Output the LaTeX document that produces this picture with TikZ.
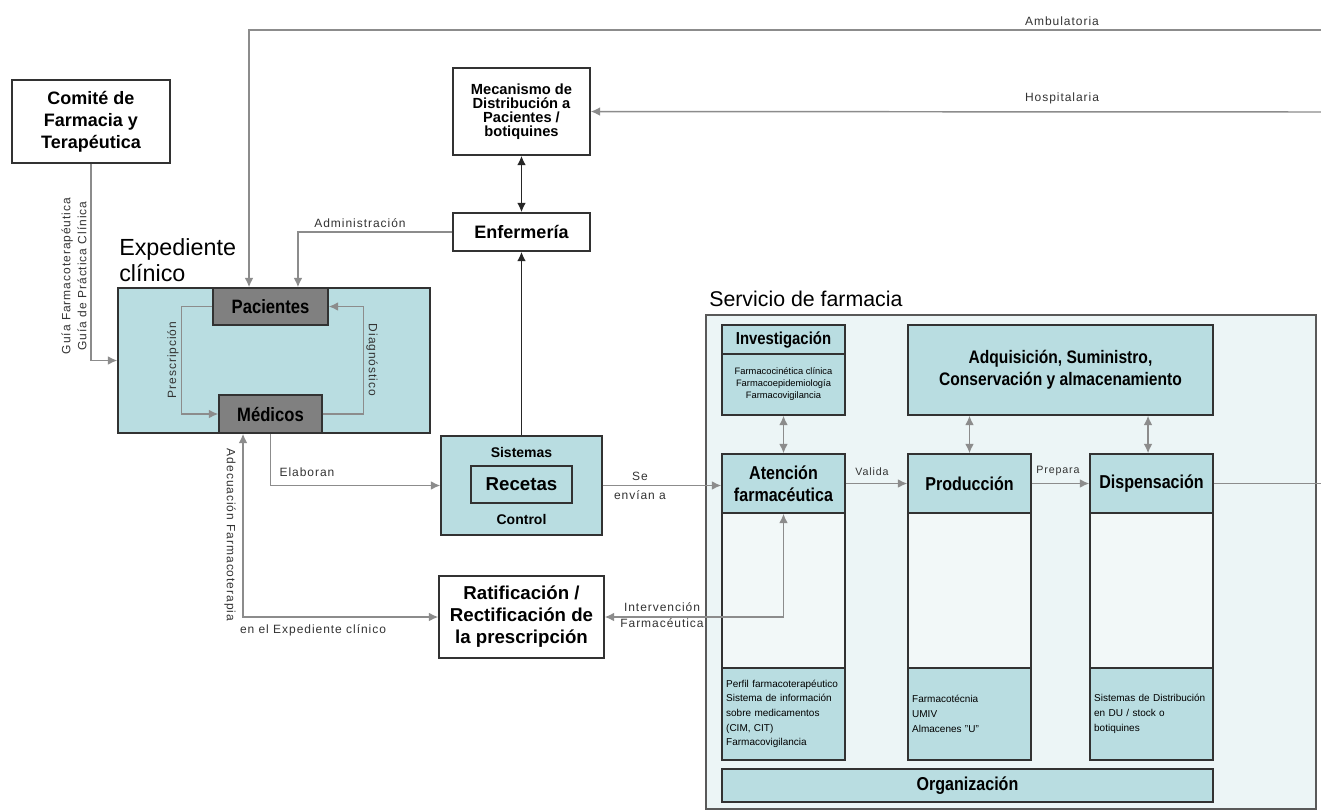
\documentclass[tikz,border=0pt]{standalone}
\usepackage{fontspec}
\setmainfont{Liberation Sans}
\newfontfamily\condfont[FakeStretch=0.86]{Liberation Sans}
\newfontfamily\lblfont[LetterSpace=8]{Liberation Sans}
\usetikzlibrary{arrows.meta,positioning}
\definecolor{edge}{RGB}{50,50,50}
\definecolor{cyanbox}{RGB}{185,221,225}
\definecolor{palebox}{RGB}{242,248,248}
\definecolor{bgfarm}{RGB}{236,245,246}
\definecolor{darkbox}{RGB}{128,128,128}
\definecolor{arrowc}{RGB}{140,140,140}

\begin{document}
\begin{tikzpicture}[
  x=0.75pt, y=-0.75pt,
  wbox/.style={draw=edge, line width=1.1pt, fill=white, align=center, inner sep=2pt},
  bbox/.style={wbox, fill=cyanbox},
  pbox/.style={wbox, fill=palebox},
  gbox/.style={wbox, fill=darkbox},
  head/.style={font=\condfont\bfseries\fontsize{14}{16.5}\selectfont},
  small/.style={font=\fontsize{7.5}{11}\selectfont, align=left, text width=86pt},
  lbl/.style={font=\lblfont\fontsize{9}{12}\selectfont, text=black!80, inner sep=1pt, align=center},
  garr/.style={draw=arrowc, line width=1.1pt, -{Latex[length=7pt,width=6.5pt]}},
  gdarr/.style={draw=arrowc, line width=1.1pt, {Latex[length=7pt,width=6.5pt]}-{Latex[length=7pt,width=6.5pt]}},
  gline/.style={draw=arrowc, line width=1.1pt},
  karr/.style={draw=black!85, line width=1.3pt, -{Latex[length=7pt,width=6.5pt]}},
  kdarr/.style={draw=black!85, line width=1.3pt, {Latex[length=7pt,width=6.5pt]}-{Latex[length=7pt,width=6.5pt]}}
]
\fill[white] (0,0) rectangle (1321,811);
\useasboundingbox (0,0) rectangle (1321,811);

% left part
\node[wbox, minimum width=118.5pt, minimum height=62.25pt, font=\bfseries\fontsize{13.5}{16.5}\selectfont] (comite) at (91,121.5) {Comité de\\Farmacia y\\Terapéutica};
\node[anchor=north west, align=left, inner sep=0pt, font=\fontsize{17.5}{20}\selectfont] (exptitle) at (119,238) {Expediente\\clínico};
\node[bbox, minimum width=234pt, minimum height=108.75pt] (expediente) at (274,360.5) {};
\node[gbox, minimum width=86.25pt, minimum height=27.75pt, font=\condfont\bfseries\fontsize{14.5}{16}\selectfont] (pacientes) at (270.5,306.5) {Pacientes};
\node[gbox, minimum width=77.25pt, minimum height=28.5pt, font=\condfont\bfseries\fontsize{14.5}{16}\selectfont] (medicos) at (270.5,414) {Médicos};

% middle column
\node[wbox, minimum width=102.75pt, minimum height=65.25pt, font=\bfseries\fontsize{11}{10.5}\selectfont] (mecanismo) at (521.5,111.5) {Mecanismo de\\Distribución a\\Pacientes /\\botiquines};
\node[wbox, minimum width=102.75pt, minimum height=28.5pt, font=\bfseries\fontsize{13.5}{16}\selectfont] (enfermeria) at (521.5,232) {Enfermería};
\node[bbox, minimum width=120.75pt, minimum height=74.25pt] (sistemas) at (521.5,485.5) {};
\node[font=\bfseries\fontsize{10.5}{12}\selectfont, inner sep=0pt] (sistlbl) at (521.5,452) {Sistemas};
\node[font=\bfseries\fontsize{10.5}{12}\selectfont, inner sep=0pt] (ctrllbl) at (521.5,519) {Control};
\node[bbox, minimum width=75.75pt, minimum height=27.75pt, font=\bfseries\fontsize{14}{16}\selectfont] (recetas) at (521.5,484.5) {Recetas};
\node[wbox, minimum width=123.75pt, minimum height=61.5pt, font=\bfseries\fontsize{14}{16.5}\selectfont] (ratif) at (521.5,617) {Ratificación /\\Rectificación de\\la prescripción};

% servicio de farmacia
\node[draw=black!65, line width=1.1pt, fill=bgfarm, minimum width=457.5pt, minimum height=370.5pt] (farmacia) at (1011,562) {};
\node[anchor=west, inner sep=0pt, font=\fontsize{16}{19}\selectfont] (farmtitle) at (709,299) {Servicio de farmacia};

\node[bbox, minimum width=92.25pt, minimum height=21.75pt, font=\condfont\bfseries\fontsize{13}{15}\selectfont] (invhead) at (783.5,339.5) {Investigación};
\node[bbox, minimum width=92.25pt, minimum height=45.75pt, font=\fontsize{7}{9}\selectfont] (invbody) at (783.5,384.5) {Farmacocinética clínica\\Farmacoepidemiología\\Farmacovigilancia};
\node[bbox, minimum width=228.75pt, minimum height=67.5pt, font=\condfont\bfseries\fontsize{13.6}{16.5}\selectfont] (adquis) at (1060.5,370) {Adquisición, Suministro,\\Conservación y almacenamiento};

\node[pbox, minimum width=92.25pt, minimum height=116.25pt] (atencmid) at (783.5,590.5) {};
\node[bbox, minimum width=92.25pt, minimum height=44.25pt, head] (atencion) at (783.5,483.5) {Atención\\farmacéutica};
\node[bbox, minimum width=92.25pt, minimum height=69pt, small] (atencinfo) at (783.5,714) {Perfil farmacoterapéutico\\Sistema de información\\sobre medicamentos\\(CIM, CIT)\\Farmacovigilancia};

\node[pbox, minimum width=92.25pt, minimum height=116.25pt] (prodmid) at (969.5,590.5) {};
\node[bbox, minimum width=92.25pt, minimum height=44.25pt, head] (produccion) at (969.5,483.5) {Producción};
\node[bbox, minimum width=92.25pt, minimum height=69pt, small] (prodinfo) at (969.5,714) {Farmacotécnia\\UMIV\\Almacenes "U"};

\node[pbox, minimum width=92.25pt, minimum height=116.25pt] (dispmid) at (1151.5,590.5) {};
\node[bbox, minimum width=92.25pt, minimum height=44.25pt, head] (dispensacion) at (1151.5,483.5) {Dispensación};
\node[bbox, minimum width=92.25pt, minimum height=69pt, small] (dispinfo) at (1151.5,714) {Sistemas de Distribución\\en DU / stock o\\botiquines};

\node[bbox, minimum width=368.25pt, minimum height=24.75pt, head] (organizacion) at (967.5,785.5) {Organización};

% outer connectors
\coordinate (ambR) at (1321,30);
\coordinate (hospR) at (1321,112);
\coordinate (dispR) at (1321,483.5);
\draw[garr] (ambR) -| ([xshift=-16.1pt]pacientes.north);
\node[lbl] (amblbl) at (1062,21) {Ambulatoria};
\draw[garr] (hospR) -- (mecanismo);
\node[lbl] (hosplbl) at (1062,98) {Hospitalaria};
\draw[kdarr] (mecanismo) -- (enfermeria);
\draw[garr] (enfermeria.west) -| ([xshift=20.6pt]pacientes.north);
\node[lbl] (admlbl) at (360,223) {Administración};

% guias
\draw[garr] (comite.south) |- (expediente.west);
\node[lbl, rotate=90] (guialbl) at (74,276) {Guía Farmacoterapéutica\\Guía de Práctica Clínica};

% loop pacientes / medicos
\draw[garr] (pacientes.west) -- ++(-31,0) |- (medicos.west);
\draw[garr] (medicos.east) -- ++(41,0) |- (pacientes.east);
\node[lbl, rotate=90] (presclbl) at (173,360) {Prescripción};
\node[lbl, rotate=-90] (diaglbl) at (372,360) {Diagnóstico};

% recetas
\draw[garr] (medicos.south) |- (sistemas.west);
\node[lbl] (elablbl) at (307,472) {Elaboran};
\draw[karr] (sistemas.north) -- (enfermeria.south);
\draw[garr] (sistemas.east) -- (sistemas.east -| atencion.west);
\node[lbl] (envlbl) at (640,486) {Se\\[2pt]envían a};

% adecuacion
\draw[gdarr] (ratif.west) -| ([xshift=-20.6pt]medicos.south);
\node[lbl, rotate=-90] (adeclbl) at (230,535) {Adecuación Farmacoterapia};
\node[lbl] (enellbl) at (313,630) {en el Expediente clínico};

% intervencion
\draw[gdarr] (ratif.east) -| (atencion.south);
\node[lbl] (intlbl) at (662,615) {Intervención\\Farmacéutica};

% inside farmacia
\draw[gdarr] (invbody.south) -- (atencion.north);
\draw[gdarr] (produccion.north |- adquis.south) -- (produccion.north);
\draw[gdarr] ([xshift=-2.6pt]dispensacion.north |- adquis.south) -- ([xshift=-2.6pt]dispensacion.north);
\draw[garr] (atencion.east) -- (produccion.west);
\node[lbl, font=\lblfont\fontsize{8}{10}\selectfont] (validalbl) at (872,472) {Valida};
\draw[garr] (produccion.east) -- (dispensacion.west);
\node[lbl, font=\lblfont\fontsize{8}{10}\selectfont] (preplbl) at (1058,471) {Prepara};
\draw[gline] (dispensacion.east) -- (dispR);
\end{tikzpicture}
\end{document}
